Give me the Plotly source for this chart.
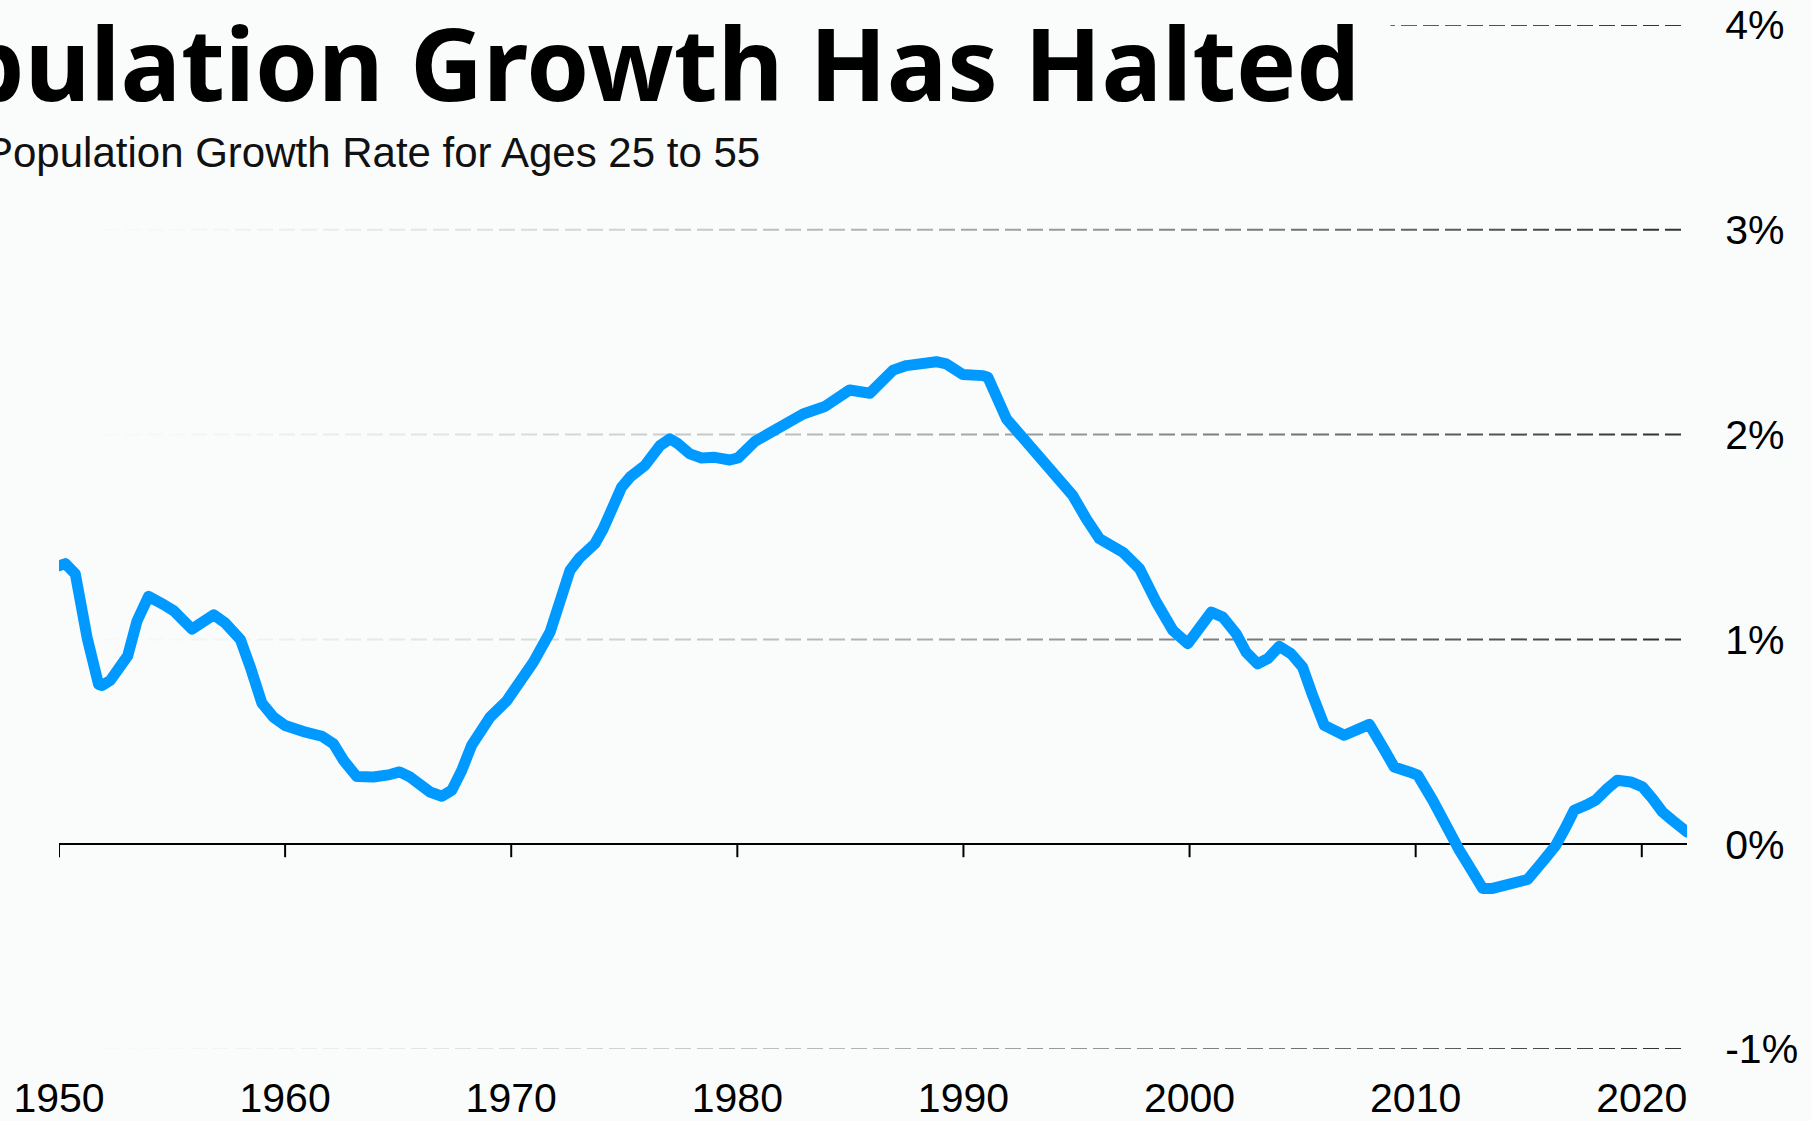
import plotly.graph_objects as go

# ---------------- data ----------------
years = [1950.00, 1950.28, 1950.72, 1951.24, 1951.75, 1951.90, 1952.27, 1952.71, 1953.04, 1953.45,
         1953.96, 1954.63, 1955.07, 1955.88, 1956.47, 1956.84, 1957.35, 1958.02, 1958.46, 1958.97,
         1959.49, 1960.00, 1960.81, 1961.11, 1961.63, 1962.14, 1962.58, 1963.17, 1963.91, 1964.64,
         1965.06, 1965.53, 1965.97, 1966.41, 1966.93, 1967.37, 1967.81, 1968.25, 1968.62, 1969.06,
         1969.80, 1970.39, 1970.98, 1971.72, 1972.16, 1972.60, 1973.04, 1973.70, 1974.07, 1974.88,
         1975.25, 1975.91, 1976.58, 1977.02, 1977.38, 1977.90, 1978.42, 1979.00, 1979.67, 1980.03,
         1980.77, 1981.58, 1982.39, 1982.91, 1983.87, 1984.38, 1984.97, 1985.86, 1986.30, 1986.89,
         1987.48, 1988.21, 1988.80, 1989.24, 1989.98, 1990.86, 1991.08, 1991.90, 1992.63, 1993.51,
         1994.25, 1994.84, 1995.43, 1996.02, 1997.05, 1997.79, 1998.53, 1999.26, 1999.92, 2000.44,
         2000.96, 2001.47, 2002.06, 2002.50, 2003.01, 2003.46, 2003.97, 2004.49, 2005.00, 2005.44,
         2005.96, 2006.84, 2007.36, 2007.95, 2008.54, 2009.05, 2009.72, 2010.09, 2010.75, 2011.34,
         2011.93, 2012.52, 2012.96, 2013.40, 2013.99, 2014.43, 2014.95, 2015.61, 2016.20, 2016.64,
         2017.01, 2017.52, 2017.96, 2018.48, 2018.92, 2019.51, 2020.03, 2020.47, 2020.91, 2021.35,
         2021.87, 2022.00]
growth = [1.36, 1.37, 1.32, 1.01, 0.78, 0.775, 0.80, 0.88, 0.92, 1.09,
          1.21, 1.17, 1.14, 1.05, 1.085, 1.12, 1.08, 1.00, 0.865, 0.69,
          0.62, 0.58, 0.55, 0.54, 0.527, 0.49, 0.41, 0.33, 0.328, 0.34,
          0.353, 0.328, 0.288, 0.255, 0.234, 0.263, 0.36, 0.483, 0.545, 0.62,
          0.70, 0.784, 0.889, 1.036, 1.174, 1.337, 1.40, 1.467, 1.54, 1.743,
          1.792, 1.849, 1.946, 1.979, 1.955, 1.906, 1.886, 1.889, 1.876, 1.886,
          1.966, 2.016, 2.068, 2.101, 2.137, 2.174, 2.218, 2.202, 2.25, 2.315,
          2.337, 2.345, 2.356, 2.345, 2.293, 2.288, 2.28, 2.077, 1.987, 1.881,
          1.784, 1.702, 1.589, 1.491, 1.426, 1.345, 1.182, 1.044, 0.979, 1.06,
          1.133, 1.109, 1.028, 0.938, 0.881, 0.906, 0.966, 0.93, 0.865, 0.727,
          0.58, 0.532, 0.556, 0.585, 0.475, 0.377, 0.353, 0.337, 0.215, 0.084,
          -0.029, -0.135, -0.216, -0.216, -0.197, -0.192, -0.172, -0.086, -0.005, 0.084,
          0.166, 0.19, 0.215, 0.272, 0.312, 0.304, 0.28, 0.223, 0.158, 0.117,
          0.068, 0.06]

x_tick_vals = [1950, 1960, 1970, 1980, 1990, 2000, 2010, 2020]
x_tick_text = ["1950", "1960", "1970", "1980", "1990", "2000", "2010", "2020"]
y_tick_vals = [-1, 0, 1, 2, 3, 4]
y_tick_text = ["-1%", "0%", "1%", "2%", "3%", "4%"]
grid_levels = [-1, 1, 2, 3, 4]

title_text = "Population Growth Has Halted"
subtitle_text = "Population Growth Rate for Ages 25 to 55"

# ---------------- layout geometry ----------------
W, H = 1811, 1121
PL, PR, PT, PB = 58.6, 1687.3, 24.7, 1049.0
BG = "#fafcfc"
LINE_BLUE = "#0099ff"


def fx(px):
    return (px - PL) / (PR - PL)


def fy(py):
    return (PB - py) / (PB - PT)


fig = go.Figure()
fig.add_trace(go.Scatter(
    x=years, y=growth, mode="lines",
    line=dict(color=LINE_BLUE, width=11),
    cliponaxis=False, hoverinfo="skip", showlegend=False,
))

shapes = []
# gradient dashed gridlines (fade in from left to right)
NSEG = 37
for lvl in grid_levels:
    for i in range(NSEG):
        t = (i + 0.5) / NSEG
        shapes.append(dict(
            type="line", xref="paper", yref="y",
            x0=i / NSEG, x1=(i + 1) / NSEG, y0=lvl, y1=lvl,
            line=dict(color="#303030", width=2, dash="16px,6px"),
            opacity=t ** 1.5, layer="below",
        ))
# tick marks hanging from the zero line
for xv in x_tick_vals:
    shapes.append(dict(
        type="line", xref="x", yref="y", ysizemode="pixel", yanchor=0,
        x0=xv, x1=xv, y0=0, y1=-13,
        line=dict(color="#000000", width=2), layer="above",
    ))

annotations = [
    dict(text=title_text, xref="paper", yref="paper",
         x=fx(1391), y=fy(61.5), xanchor="right", yanchor="middle",
         showarrow=False, bgcolor=BG, borderpad=30,
         font=dict(family="Noto Sans", size=101, color="#000000", weight=700)),
    dict(text=subtitle_text, xref="paper", yref="paper",
         x=fx(762), y=fy(152.6), xanchor="right", yanchor="middle",
         showarrow=False,
         font=dict(family="Liberation Sans, Arial", size=42, color="#111111")),
]

fig.update_layout(
    template="none",
    width=W, height=H,
    margin=dict(l=PL, r=W - PR, t=PT, b=H - PB, pad=0),
    paper_bgcolor=BG, plot_bgcolor=BG,
    showlegend=False,
    xaxis=dict(
        range=[1950, 2022], tickvals=x_tick_vals, ticktext=x_tick_text,
        showgrid=False, zeroline=False, showline=False,
        ticks="outside", ticklen=13, tickcolor="rgba(0,0,0,0)",
        tickfont=dict(family="Liberation Sans, Arial", size=41, color="#000000"),
        automargin=False, fixedrange=True,
    ),
    yaxis=dict(
        range=[-1, 4], side="right", tickvals=y_tick_vals, ticktext=y_tick_text,
        showgrid=False, zeroline=True, zerolinecolor="#000000", zerolinewidth=2,
        showline=False,
        ticks="outside", ticklen=29, tickcolor="rgba(0,0,0,0)",
        tickfont=dict(family="Liberation Sans, Arial", size=41, color="#000000"),
        automargin=False, fixedrange=True,
    ),
    shapes=shapes,
    annotations=annotations,
)

post_js = (
    "document.body.style.margin='0';"
    "document.body.style.background='" + BG + "';"
    "document.querySelectorAll('.scatterlayer path.js-line').forEach(function(p){"
    "p.style.strokeLinejoin='round';p.style.strokeLinecap='round';});"
)

fig.write_html("out.html", post_script=post_js, config={"displayModeBar": False})
